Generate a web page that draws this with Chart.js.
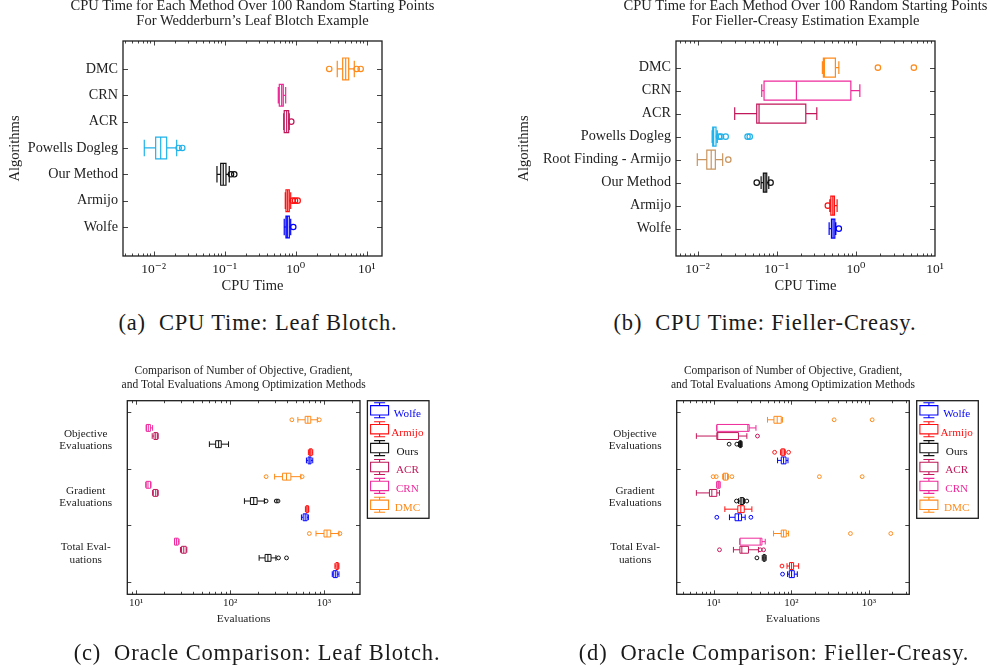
<!DOCTYPE html>
<html>
<head>
<meta charset="utf-8">
<script src="https://cdn.jsdelivr.net/npm/chart.js@4.4.1/dist/chart.umd.min.js"></script>
<style>
html,body{margin:0;padding:0;background:#fff;}
body{width:990px;height:670px;position:relative;overflow:hidden;}
.box{position:absolute;}
.box canvas{display:block;}
.cap{position:absolute;font-family:'Liberation Serif','DejaVu Serif',serif;font-size:22.5px;line-height:24px;letter-spacing:0.85px;color:#1a1a1a;white-space:pre;transform:translateX(-50%);}
</style>
</head>
<body>
<div class="box" style="left:0px;top:-4px;width:505px;height:304px"><canvas id="chartA"></canvas></div>
<div class="box" style="left:515px;top:-4px;width:581px;height:304px"><canvas id="chartB"></canvas></div>
<div class="box" style="left:0px;top:355px;width:487.3px;height:315px"><canvas id="chartC"></canvas></div>
<div class="box" style="left:590px;top:355px;width:406px;height:315px"><canvas id="chartD"></canvas></div>
<div class="cap" style="left:258px;top:311px">(a)  CPU Time: Leaf Blotch.</div>
<div class="cap" style="left:765px;top:311px">(b)  CPU Time: Fieller-Creasy.</div>
<div class="cap" style="left:257px;top:641px">(c)  Oracle Comparison: Leaf Blotch.</div>
<div class="cap" style="left:774px;top:641px">(d)  Oracle Comparison: Fieller-Creasy.</div>
<script>
const FONT = "'Liberation Serif', 'DejaVu Serif', serif";
const INK = '#222222';

// ---------- Panel (a): CPU time, Leaf Blotch (bottom to top) ----------
const algosA = ['Wolfe', 'Armijo', 'Our Method', 'Powells Dogleg', 'ACR', 'CRN', 'DMC'];
const lowA  = [0.690, 0.714, 0.0779, 0.00738, 0.678, 0.569, 3.85];
const q1A   = [0.730, 0.730, 0.0879, 0.01067, 0.690, 0.588, 4.59];
const medA  = [0.762, 0.771, 0.0955, 0.01256, 0.747, 0.635, 5.06];
const q3A   = [0.813, 0.813, 0.1043, 0.01525, 0.797, 0.669, 5.58];
const highA = [0.851, 0.851, 0.1161, 0.0211, 0.813, 0.723, 6.69];
const outA  = [[0.925], [0.907, 0.978, 1.067], [0.1227, 0.1365], [0.0225, 0.0253], [0.867], [], [2.97, 7.23, 8.23]];
const colorsA = ['#0000ff', '#ff1010', '#111111', '#20b2ea', '#c0185a', '#ee2a9b', '#ff8a1a'];

// ---------- Panel (b): CPU time, Fieller-Creasy (bottom to top) ----------
const algosB = ['Wolfe', 'Armijo', 'Our Method', 'Root Finding - Armijo', 'Powells Dogleg', 'ACR', 'CRN', 'DMC'];
const lowB  = [0.460, 0.469, 0.0636, 0.00994, 0.0153, 0.0295, 0.0648, 0.378];
const q1B   = [0.492, 0.483, 0.0679, 0.0131, 0.01556, 0.0560, 0.0693, 0.389];
const medB  = [0.516, 0.512, 0.0714, 0.0149, 0.0160, 0.0599, 0.1775, 0.401];
const q3B   = [0.543, 0.536, 0.0749, 0.0168, 0.01714, 0.2333, 0.865, 0.552];
const highB = [0.559, 0.580, 0.0795, 0.0208, 0.0178, 0.3214, 1.124, 0.610];
const outB  = [[0.610], [0.443], [0.0560, 0.0838], [0.0245], [0.0187, 0.0198, 0.0227, 0.0429, 0.0457], [], [], [1.90, 5.41]];
const colorsB = ['#0000ff', '#ff1010', '#111111', '#c8955f', '#20b2ea', '#c0185a', '#ee2a9b', '#ff8a1a'];

// ---------- Panels (c), (d): oracle counts ----------
const groupLabels = [['Objective', 'Evaluations'], ['Gradient', 'Evaluations'], ['Total Eval-', 'uations']];
const methodsCD = ['Wolfe', 'Armijo', 'Ours', 'ACR', 'CRN', 'DMC'];
const colorsCD = ['#0000ff', '#ff1010', '#111111', '#c0185a', '#ee2a9b', '#ff8a1a'];

// (c) Leaf Blotch: [Objective, Gradient, Total] x [Wolfe, Armijo, Ours, ACR, CRN, DMC]
const lowC  = [[650, 682, 60.3, 14.86, 12.85, 527], [575, 634, 142.3, 15.0, 12.7, 298], [1224, 1306, 204, 29.7, 25.7, 822]];
const q1C   = [[677, 699, 70.3, 15.5, 12.85, 630], [600, 645, 164.8, 15.25, 12.8, 362], [1254, 1339, 236, 30.5, 25.7, 1000]];
const medC  = [[706, 722, 75.6, 16.2, 13.5, 673], [630, 661, 178.6, 16.2, 13.4, 399], [1318, 1383, 253, 32.2, 26.9, 1076]];
const q3C   = [[728, 746, 80.7, 16.97, 14.2, 723], [661, 682, 194, 16.97, 14.3, 444], [1383, 1417, 273, 34.1, 28.1, 1178]];
const highC = [[759, 759, 96.4, 17.2, 15.0, 849], [682, 689, 232, 17.2, 14.4, 567], [1442, 1442, 308, 34.7, 28.7, 1442]];
const outC  = [[[], [], [], [], [], [455, 891]], [[], [], [242, 310, 324], [], [], [242, 585]], [[], [], [328, 399], [], [], [698, 1476]]];

// (d) Fieller-Creasy
const lowD  = [[66.6, 72.8, 20.9, 6.0, 11.0, 49.4], [16.0, 13.96, 20.9, 6.0, 11.0, 13.1], [89.6, 88.1, 42.3, 18.0, 21.8, 59.1]];
const q1D   = [[74.3, 74.3, 21.5, 11.0, 11.0, 59.8], [18.9, 20.5, 22.0, 8.84, 11.0, 13.4], [94.2, 95.0, 43.6, 21.8, 21.8, 74.3]];
const medD  = [[79.6, 78.2, 22.2, 11.3, 27.6, 65.9], [20.9, 22.4, 23.1, 9.49, 11.5, 14.1], [100.9, 100.9, 44.8, 23.1, 39.8, 79.6]];
const q3D   = [[85.5, 82.0, 22.8, 20.9, 28.7, 74.3], [22.9, 24.8, 24.3, 11.0, 12.1, 15.1], [109.3, 107.1, 46.2, 28.1, 41.9, 86.2]];
const highD = [[90.7, 83.7, 23.3, 26.8, 35.1, 77.2], [25.5, 31.1, 25.0, 11.9, 12.1, 15.5], [119.5, 124.3, 47.5, 37.8, 46.2, 92.3]];
const outD  = [[[], [61, 92.3], [15.85, 19.9], [36.7], [], [356, 1099]],
               [[11.0, 30.2], [], [19.7, 26.8], [], [], [9.86, 10.8, 17.2, 230, 817]],
               [[77.2], [75.9], [36.1], [11.9, 39.8, 44.0], [], [577, 1910]]];

// ---------- helpers ----------
const SUP = {'-': '\u207B', '0': '\u2070', '1': '\u00B9', '2': '\u00B2', '3': '\u00B3', '4': '\u2074', '5': '\u2075', '6': '\u2076', '7': '\u2077', '8': '\u2078', '9': '\u2079'};
function decadeOf(v) { const e = Math.round(Math.log10(v)); return Math.abs(v / Math.pow(10, e) - 1) < 1e-9 ? e : null; }
function powLabel(v) { const e = decadeOf(v); return e === null ? '' : '10' + String(e).split('').map(c => SUP[c]).join(''); }
function logTicks(min, max) {
  const out = [];
  for (let e = Math.floor(Math.log10(min)); e <= Math.ceil(Math.log10(max)); e++) {
    for (let m = 1; m <= 9; m++) {
      const v = m * Math.pow(10, e);
      if (v >= min * (1 - 1e-12) && v <= max * (1 + 1e-12)) out.push(v);
    }
  }
  return out;
}

function boxPlugin(items, st) {
  return { id: 'boxes', beforeDatasetsDraw(chart) {
    const { ctx, chartArea: a, scales: { x, y } } = chart;
    ctx.save();
    ctx.beginPath(); ctx.rect(a.left, a.top, a.right - a.left, a.bottom - a.top); ctx.clip();
    ctx.lineWidth = st.lw;
    for (const it of items) {
      const yc = y.getPixelForValue(it.pos);
      const hb = Math.abs(y.getPixelForValue(it.pos + st.boxW / 2) - yc);
      const hc = Math.abs(y.getPixelForValue(it.pos + st.capW / 2) - yc);
      const X = v => x.getPixelForValue(v);
      const xl = X(it.low), x1 = X(it.q1), xm = X(it.med), x3 = X(it.q3), xh = X(it.high);
      ctx.strokeStyle = it.color;
      ctx.beginPath();
      ctx.rect(x1, yc - hb, x3 - x1, 2 * hb);
      ctx.moveTo(xm, yc - hb); ctx.lineTo(xm, yc + hb);
      ctx.moveTo(xl, yc); ctx.lineTo(x1, yc);
      ctx.moveTo(x3, yc); ctx.lineTo(xh, yc);
      ctx.moveTo(xl, yc - hc); ctx.lineTo(xl, yc + hc);
      ctx.moveTo(xh, yc - hc); ctx.lineTo(xh, yc + hc);
      ctx.stroke();
    }
    ctx.restore();
  } };
}

function framePlugin(yMarks, st) {
  return { id: 'frame', afterDraw(chart) {
    const { ctx, chartArea: a, scales: { x, y } } = chart;
    ctx.save();
    ctx.strokeStyle = '#444'; ctx.lineWidth = 1;
    ctx.beginPath();
    for (const t of x.ticks) {
      const px = Math.round(x.getPixelForValue(t.value)) + 0.5;
      if (px < a.left + 1.5 || px > a.right - 1.5) continue;
      const len = decadeOf(t.value) === null ? st.minor : st.major;
      ctx.moveTo(px, a.bottom); ctx.lineTo(px, a.bottom - len);
      ctx.moveTo(px, a.top); ctx.lineTo(px, a.top + len);
    }
    for (const v of yMarks) {
      const py = Math.round(y.getPixelForValue(v)) + 0.5;
      ctx.moveTo(a.left, py); ctx.lineTo(a.left + st.ytick, py);
      ctx.moveTo(a.right, py); ctx.lineTo(a.right - st.ytick, py);
    }
    ctx.stroke();
    ctx.strokeStyle = '#1e1e1e'; ctx.lineWidth = 1.3;
    ctx.strokeRect(a.left, a.top, a.right - a.left, a.bottom - a.top);
    ctx.restore();
  } };
}

function legendPlugin(names, colors) {
  return { id: 'boxLegend', afterDraw(chart) {
    const { ctx, chartArea: a } = chart;
    const L = a.right + 7.4, T = a.top, W = 61.6, H = 117.6, row = 18.9;
    ctx.save();
    ctx.strokeStyle = '#1e1e1e'; ctx.lineWidth = 1.3;
    ctx.strokeRect(L, T, W, H);
    ctx.font = '11.2px ' + FONT; ctx.textAlign = 'center'; ctx.textBaseline = 'middle';
    names.forEach((n, i) => {
      const cx = L + 12.2, cy = T + 9.6 + i * row;
      ctx.strokeStyle = colors[i]; ctx.lineWidth = 1.1;
      ctx.beginPath();
      ctx.rect(cx - 9, cy - 4.7, 18, 9.4);
      ctx.moveTo(cx, cy - 4.7); ctx.lineTo(cx, cy - 7.5);
      ctx.moveTo(cx, cy + 4.7); ctx.lineTo(cx, cy + 7.5);
      ctx.moveTo(cx - 5.5, cy - 7.5); ctx.lineTo(cx + 5.5, cy - 7.5);
      ctx.moveTo(cx - 5.5, cy + 7.5); ctx.lineTo(cx + 5.5, cy + 7.5);
      ctx.stroke();
      ctx.fillStyle = colors[i];
      ctx.fillText(n, L + 40, cy + 3.5);
    });
    ctx.restore();
  } };
}

function makeChart(id, p) {
  const datasets = [];
  p.items.forEach(it => {
    if (it.out.length) datasets.push({
      data: it.out.map(v => ({ x: v, y: it.pos })),
      borderColor: it.color, backgroundColor: 'rgba(0,0,0,0)',
      pointRadius: p.r, pointHoverRadius: p.r, borderWidth: p.plw, pointStyle: 'circle'
    });
  });
  const plugins = [boxPlugin(p.items, p.box), framePlugin(p.ymarks, p.frame)];
  if (p.legend) plugins.push(legendPlugin(p.legend.names, p.legend.colors));
  return new Chart(document.getElementById(id), {
    type: 'scatter',
    data: { datasets },
    options: {
      responsive: true, maintainAspectRatio: false, animation: false, events: [],
      layout: { padding: { left: 0, right: 0, top: 0, bottom: p.padB }, autoPadding: false },
      plugins: {
        legend: { display: false }, tooltip: { enabled: false },
        title: { display: true, fullSize: true, text: p.title, color: INK,
                 font: { family: FONT, size: p.titleSize, lineHeight: p.titleLH, weight: 'normal' },
                 padding: { top: p.titlePT, bottom: p.titlePB } }
      },
      scales: {
        x: { type: 'logarithmic', position: 'bottom', min: p.xmin, max: p.xmax,
             grid: { display: false, drawTicks: false }, border: { display: false },
             afterBuildTicks: s => { s.ticks = logTicks(p.xmin, p.xmax).map(v => ({ value: v })); },
             afterFit: s => { s.height = p.xh; },
             ticks: { autoSkip: false, maxRotation: 0, minRotation: 0, padding: p.xtp, color: INK,
                      font: { family: FONT, size: p.xts }, callback: v => powLabel(v) },
             title: { display: true, text: p.xtitle, color: INK, font: { family: FONT, size: p.xtitleSize },
                      padding: { top: 0, bottom: p.xtitlePB } } },
        y: { type: 'linear', position: 'left', min: p.ymin, max: p.ymax,
             grid: { display: false, drawTicks: false }, border: { display: false },
             afterBuildTicks: s => { s.ticks = p.ylabPos.map(v => ({ value: v })); },
             afterFit: s => { s.width = p.yw; },
             ticks: { autoSkip: false, padding: p.ytp, crossAlign: p.crossAlign, color: INK,
                      font: { family: FONT, size: p.yts, lineHeight: p.ytlh },
                      callback: (v, i) => p.ylabels[i] },
             title: { display: !!p.ytitle, text: p.ytitle || '', color: INK, font: { family: FONT, size: p.ytitleSize },
                      padding: { top: p.ytitlePT || 0, bottom: 0 } } },
        // empty right-hand spacer axis (keeps the plot box and the title centred)
        yR: { type: 'linear', position: 'right', display: true,
              grid: { display: false, drawTicks: false }, border: { display: false },
              ticks: { display: false }, afterFit: s => { s.width = p.rightW; } }
      }
    },
    plugins
  });
}

function itemsAB(names, low, q1, med, q3, high, out, colors) {
  return names.map((n, i) => ({ pos: i + 1, low: low[i], q1: q1[i], med: med[i], q3: q3[i], high: high[i], out: out[i], color: colors[i] }));
}
const groupBaseCD = [14, 7, 0];
function itemsCD(low, q1, med, q3, high, out) {
  const items = [];
  for (let g = 0; g < 3; g++) for (let k = 0; k < methodsCD.length; k++) {
    items.push({ pos: groupBaseCD[g] + k, low: low[g][k], q1: q1[g][k], med: med[g][k], q3: q3[g][k], high: high[g][k], out: out[g][k], color: colorsCD[k] });
  }
  return items;
}

const commonAB = {
  titleSize: 14.5, titleLH: '15.5px', titlePT: 2.15, titlePB: 11.85,
  xh: 40.7, xtp: 5.4, xts: 13.5, xtitle: 'CPU Time', xtitleSize: 14.5, xtitlePB: 2,
  ytp: 5, yts: 14.2, ytlh: 1.2, crossAlign: 'near', ytitle: 'Algorithms', ytitleSize: 14.5,
  r: 2.7, plw: 1.2, frame: { major: 4.5, minor: 2.5, ytick: 5 }, padB: 3.3
};

makeChart('chartA', Object.assign({}, commonAB, {
  items: itemsAB(algosA, lowA, q1A, medA, q3A, highA, outA, colorsA),
  title: ['CPU Time for Each Method Over 100 Random Starting Points', 'For Wedderburn\u2019s Leaf Blotch Example'],
  rightW: 123, xmin: 0.0037, xmax: 16.43, ymin: -0.10, ymax: 8.06, yw: 123, ytitlePT: 6.3,
  ylabPos: algosA.map((_, i) => i + 1), ylabels: algosA, ymarks: algosA.map((_, i) => i + 1),
  box: { boxW: 0.83, capW: 0.63, lw: 1.2 }
}));

makeChart('chartB', Object.assign({}, commonAB, {
  items: itemsAB(algosB, lowB, q1B, medB, q3B, highB, outB, colorsB),
  title: ['CPU Time for Each Method Over 100 Random Starting Points', 'For Fieller-Creasy Estimation Example'],
  rightW: 161, xmin: 0.00535, xmax: 10, ymin: -0.19, ymax: 9.16, yw: 161, ytitlePT: 0,
  ylabPos: algosB.map((_, i) => i + 1), ylabels: algosB, ymarks: algosB.map((_, i) => i + 1),
  box: { boxW: 0.83, capW: 0.55, lw: 1.2 }
}));

const groupCenters = [16.5, 9.5, 2.5];
const groupBounds = [-1, 6, 13, 20];
const commonCD = {
  title: ['Comparison of Number of Objective, Gradient,', 'and Total Evaluations Among Optimization Methods'],
  titleSize: 11.5, titleLH: '13.4px', titlePT: 9.6, titlePB: 9.3,
  xh: 33.2, xtp: 2.1, xts: 11, xtitle: 'Evaluations', xtitleSize: 11.4, xtitlePB: 2,
  ymin: -2.48, ymax: 21.35, ytp: 15.2, yts: 11.2, ytlh: '12.7px', crossAlign: 'center',
  ylabPos: groupCenters, ylabels: groupLabels, ymarks: groupBounds,
  r: 1.9, plw: 1, frame: { major: 4, minor: 2.5, ytick: 4 }, padB: 42.5,
  box: { boxW: 0.85, capW: 0.7, lw: 1 },
  legend: { names: methodsCD, colors: colorsCD }
};

makeChart('chartC', Object.assign({}, commonCD, {
  items: itemsCD(lowC, q1C, medC, q3C, highC, outC),
  rightW: 127.3, xmin: 8.07, xmax: 2415, yw: 127.3
}));

makeChart('chartD', Object.assign({}, commonCD, {
  items: itemsCD(lowD, q1D, medD, q3D, highD, outD),
  rightW: 86.7, xmin: 3.35, xmax: 3304, yw: 86.7
}));
</script>
</body>
</html>
